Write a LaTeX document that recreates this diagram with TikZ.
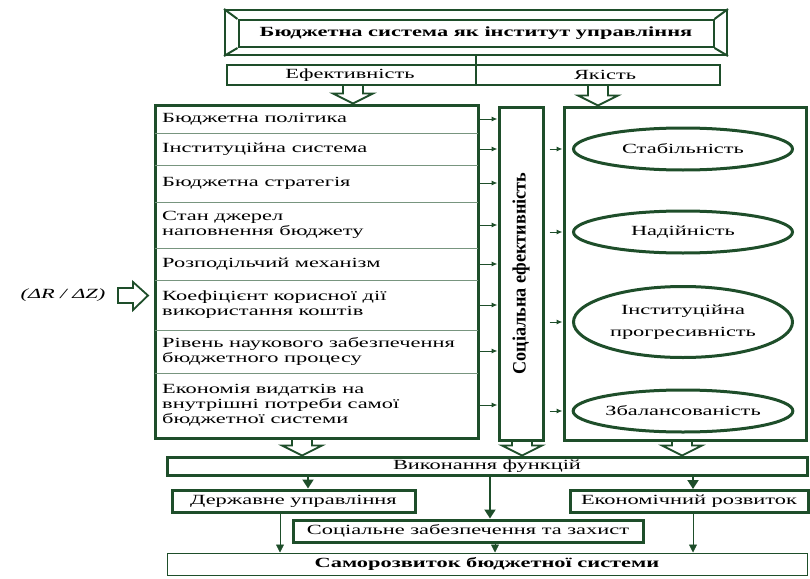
\documentclass[tikz,border=0pt]{standalone}
\usepackage{fontspec}
\setmainfont{Liberation Serif}[FakeStretch=1.6]
\newfontfamily\plainserif{Liberation Serif}
\usepackage{graphicx}
\usepackage{tikz}
\usetikzlibrary{arrows.meta, positioning, shapes.geometric, calc}

\definecolor{dkgreen}{RGB}{30,78,42}

\tikzset{
  box/.style={draw=dkgreen, line width=3pt, inner sep=0pt, align=center},
  rowtext/.style={anchor=west, align=left, inner sep=0pt, font=\fontsize{14}{15}\selectfont},
  oval/.style={ellipse, draw=dkgreen, line width=3pt, minimum width=219pt, minimum height=42pt, inner sep=0pt, align=center, font=\fontsize{14}{22}\selectfont},
  sarrow/.style={dkgreen, line width=1pt, -{Latex[length=6pt,width=5pt]}},
  darrow/.style={dkgreen, line width=2pt, -{Triangle[length=9pt,width=11pt]}},
  tarrow/.style={dkgreen, line width=0.8pt, -{Triangle[length=8pt,width=8pt]}},
  fatarrow/.style={draw=dkgreen, line width=1.8pt, line join=miter,
    to path={let \p1=(\tikztostart), \p2=(\tikztotarget) in
      (\x1-#1,\y1) -- (\x1-#1,\y2+10pt) -- (\x1-2*#1,\y2+10pt) -- (\x1,\y2)
      -- (\x1+2*#1,\y2+10pt) -- (\x1+#1,\y2+10pt) -- (\x1+#1,\y1)}},
}

\begin{document}
\begin{tikzpicture}[x=1pt, y=-1pt, font=\fontsize{14}{15}\selectfont]
		\useasboundingbox (0,0) rectangle (810,578);

		% Заголовок
		\node[box, line width=2pt, minimum width=502pt, minimum height=45pt] (frame) at (476,32.5) {};
		\node[box, line width=2pt, minimum width=475pt, minimum height=27pt, font=\bfseries\fontsize{14}{15}\selectfont] (title) at (476,33.5) {Бюджетна система як інститут управління};
		\draw[dkgreen, line width=2pt] (frame.north west) -- (title.north west);
		\draw[dkgreen, line width=2pt] (frame.north east) -- (title.north east);
		\draw[dkgreen, line width=2pt] (frame.south west) -- (title.south west);
		\draw[dkgreen, line width=2pt] (frame.south east) -- (title.south east);

		\node[box, line width=2pt, minimum width=493pt, minimum height=20pt] (effyak) at (473.5,75) {};
		\node (eff) at (350,75) {Ефективність};
		\node (yak) at (605,75) {Якість};
		\draw[dkgreen, line width=2pt] (frame.south) -- (frame.south |- effyak.south);

		% Ліва колонка
		\node[box, minimum width=323pt, minimum height=333pt] (lbox) at (316.5,271.5) {};
		\node[rowtext] (r1) at (162,119) {Бюджетна політика};
		\node[rowtext] (r2) at (162,149) {Інституційна система};
		\node[rowtext] (r3) at (162,183) {Бюджетна стратегія};
		\node[rowtext] (r4) at (162,225) {Стан джерел\\наповнення бюджету};
		\node[rowtext] (r5) at (162,264) {Розподільчий механізм};
		\node[rowtext] (r6) at (162,305) {Коефіцієнт корисної дії\\використання коштів};
		\node[rowtext] (r7) at (162,351) {Рівень наукового забезпечення\\бюджетного процесу};
		\node[rowtext] (r8) at (162,405) {Економія видатків на\\внутрішні потреби самої\\бюджетної системи};
		\foreach \y in {133,165,202,248,280,330,373}
			\draw[dkgreen!60, line width=0.8pt] (155,\y) -- (478,\y);

		% Соціальна ефективність
		\node[box, minimum width=44pt, minimum height=333pt] (sbox) at (521,273.5) {};
		\node[rotate=90] (stext) at (sbox.center) {\plainserif\bfseries\scalebox{1.3}[1.35]{Соціальна ефективність}};

		% Права колонка
		\node[box, minimum width=242pt, minimum height=333pt] (rbox) at (685,273.5) {};
		\node[oval] (e1) at (683,149) {Стабільність};
		\node[oval] (e2) at (683,232) {Надійність};
		\node[oval, minimum height=71pt] (e3) at (683,322) {Інституційна\\прогресивність};
		\node[oval] (e4) at (683,411) {Збалансованість};

		% Вхід
		\node[font=\itshape\fontsize{14}{15}\selectfont] (dr) at (63,295) {(ΔR / ΔZ)};
		\draw[dkgreen, line width=1.8pt, line join=miter] (118,288) -- (133,288) -- (133,282) -- (148,295.5) -- (133,310) -- (133,303) -- (118,303) -- cycle;

		% Нижні блоки
		\node[box, minimum width=640pt, minimum height=18pt] (vyk) at (487,466) {Виконання функцій};
		\node[box, minimum width=243pt, minimum height=22pt] (derzh) at (293.5,501) {Державне управління};
		\node[box, minimum width=238pt, minimum height=22pt] (ekon) at (689,501.5) {Економічний розвиток};
		\node[box, minimum width=350pt, minimum height=22pt] (soc) at (468,531) {Соціальне забезпечення та захист};
		\node[box, line width=1pt, minimum width=640pt, minimum height=22pt, font=\bfseries\fontsize{14}{15}\selectfont] (samo) at (487,564) {Саморозвиток бюджетної системи};

		% Стрілки
		\coordinate (a1) at (353,85);
		\coordinate (a2) at (598,85);
		\draw[fatarrow=10pt] (a1) to (a1 |- lbox.north);
		\draw[fatarrow=10pt] (a2) to (a2 |- rbox.north);
		\foreach \r in {r1,r2,r3,r4,r5,r6,r7,r8}
			\draw[sarrow] (lbox.east |- \r) -- (sbox.west |- \r);
		\foreach \e in {e1,e2,e3,e4}
			\draw[sarrow, shorten <=5pt] (sbox.east |- \e) -- (rbox.west |- \e);

		\coordinate (b1) at (302,438);
		\coordinate (b2) at (522,440);
		\coordinate (b3) at (682,440);
		\draw[fatarrow=10pt] (b1) to (b1 |- vyk.north);
		\draw[fatarrow=10pt] (b2) to (b2 |- vyk.north);
		\draw[fatarrow=10pt] (b3) to (b3 |- vyk.north);

		\coordinate (c1) at (308,0);
		\coordinate (c2) at (490,0);
		\coordinate (c3) at (693,0);
		\draw[darrow] (vyk.south -| c1) -- (derzh.north -| c1);
		\draw[darrow] (vyk.south -| c2) -- (soc.north -| c2);
		\draw[darrow] (vyk.south -| c3) -- (ekon.north -| c3);

		\coordinate (d1) at (280,0);
		\coordinate (d2) at (495,0);
		\coordinate (d3) at (693,0);
		\draw[tarrow] (derzh.south -| d1) -- (samo.north -| d1);
		\draw[tarrow] (soc.south -| d2) -- (samo.north -| d2);
		\draw[tarrow] (ekon.south -| d3) -- (samo.north -| d3);
	\end{tikzpicture}
\end{document}
